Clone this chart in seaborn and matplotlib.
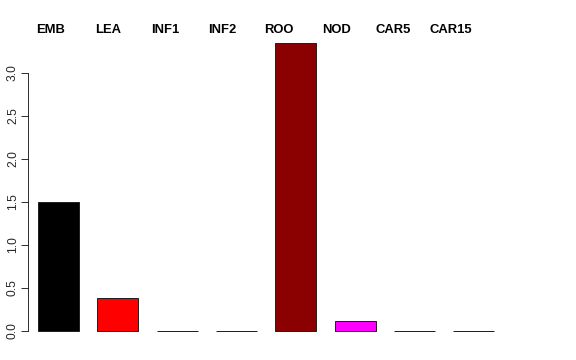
import matplotlib
matplotlib.use("Agg")
import matplotlib.pyplot as plt
import matplotlib.transforms as mtransforms
import seaborn as sns
import pandas as pd

categories = ["EMB", "LEA", "INF1", "INF2", "ROO", "NOD", "CAR5", "CAR15"]
values = [1.50, 0.38, 0.0, 0.0, 3.35, 0.115, 0.0, 0.0]
colors = ["#000000", "#FF0000", "#00CD00", "#0000FF", "#8B0000", "#FF00FF", "#FFA500", "#00FFFF"]
yticks = [0.0, 0.5, 1.0, 1.5, 2.0, 2.5, 3.0]

sns.set_theme(style="white")
plt.rcParams["font.family"] = ["Liberation Sans", "DejaVu Sans"]

W, H = 576, 360
fig = plt.figure(figsize=(W / 72, H / 72), dpi=72)
left_px, right_px, bottom_px, top_px = 28, 540, 331, 20
ax = fig.add_axes([left_px / W, (H - bottom_px) / H, (right_px - left_px) / W, (bottom_px - top_px) / H])

df = pd.DataFrame({"cat": categories, "val": values})
sns.barplot(data=df, x="cat", y="val", hue="cat", palette=colors, legend=False,
            width=0.69, edgecolor="#222222", linewidth=1.0, ax=ax, saturation=1)
for p in ax.patches:
    p.set_clip_on(False)

period = 59.3
x0 = -(58.6 - left_px) / period
x1 = (right_px - 58.6) / period
ax.set_xlim(x0, x1)
ax.set_ylim(0, (bottom_px - top_px) / 86.0)

for s in ["top", "right", "bottom"]:
    ax.spines[s].set_visible(False)
ax.spines["left"].set_bounds(0, 3.0)
ax.spines["left"].set_color("black")
ax.spines["left"].set_linewidth(0.8)
ax.set_xticks([])
ax.set_yticks(yticks)
ax.set_yticklabels([f"{t:.1f}" for t in yticks], rotation=90, va="center")
ax.tick_params(axis="y", left=True, length=7, width=0.8, color="black", labelsize=12, pad=2)
ax.set_xlabel("")
ax.set_ylabel("")

trans = mtransforms.blended_transform_factory(ax.transData, fig.transFigure)
for i, c in enumerate(categories):
    ax.text(-0.135 + 0.963 * i, (H - 30) / H, c, transform=trans, ha="center", va="center",
            fontsize=13, fontweight="bold", color="black", clip_on=False)

fig.savefig("out.png", dpi=72)
